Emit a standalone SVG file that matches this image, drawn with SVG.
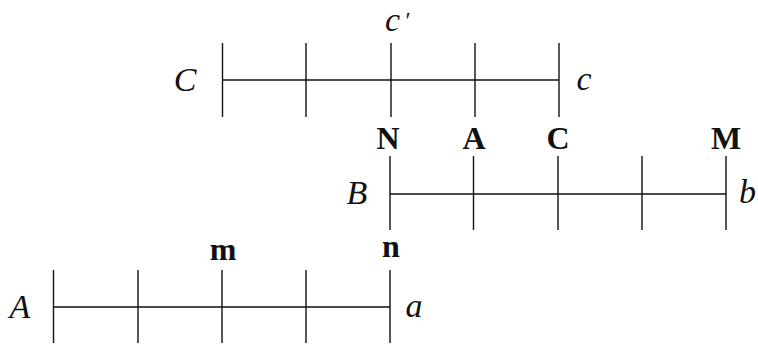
<svg xmlns="http://www.w3.org/2000/svg" width="758" height="345" viewBox="0 0 758 345">
<style>
.ln{stroke:#111;stroke-width:1.4;fill:none}
.it{font-family:"Liberation Serif",serif;font-style:italic;font-size:34px;fill:#111}
.bd{font-family:"Liberation Serif",serif;font-weight:bold;font-size:32px;fill:#111;text-anchor:middle}
</style>
<rect width="758" height="345" fill="#fff"/>
<g id="connectors">
<g id="ruler-C">
<line class="ln" x1="222.5" y1="80" x2="559" y2="80"/>
<line class="ln" x1="222.5" y1="43" x2="222.5" y2="117"/>
<line class="ln" x1="306" y1="43" x2="306" y2="117"/>
<line class="ln" x1="391" y1="43" x2="391" y2="117"/>
<line class="ln" x1="475" y1="43" x2="475" y2="117"/>
<line class="ln" x1="559" y1="43" x2="559" y2="117"/>
</g>
<g id="ruler-B">
<line class="ln" x1="390" y1="194" x2="726" y2="194"/>
<line class="ln" x1="390" y1="156" x2="390" y2="230"/>
<line class="ln" x1="473.5" y1="156" x2="473.5" y2="230"/>
<line class="ln" x1="558" y1="156" x2="558" y2="230"/>
<line class="ln" x1="642" y1="156" x2="642" y2="230"/>
<line class="ln" x1="726" y1="156" x2="726" y2="230"/>
</g>
<g id="ruler-A">
<line class="ln" x1="53.5" y1="307" x2="390" y2="307"/>
<line class="ln" x1="53.5" y1="270" x2="53.5" y2="343"/>
<line class="ln" x1="138" y1="270" x2="138" y2="343"/>
<line class="ln" x1="222" y1="270" x2="222" y2="343"/>
<line class="ln" x1="306" y1="270" x2="306" y2="343"/>
<line class="ln" x1="390" y1="270" x2="390" y2="343"/>
</g>
</g>
<g id="label-C"><text class="it" x="185" y="91" text-anchor="middle">C</text></g>
<g id="label-c"><text class="it" x="584" y="90" text-anchor="middle">c</text></g>
<g id="label-cprime"><text class="it" x="385" y="31">c<tspan dx="4" dy="-3" font-size="24">′</tspan></text></g>
<g id="label-N"><text class="bd" x="388" y="149">N</text></g>
<g id="label-A-bold"><text class="bd" x="474" y="149">A</text></g>
<g id="label-C-bold"><text class="bd" x="558" y="149">C</text></g>
<g id="label-M"><text class="bd" x="726" y="149">M</text></g>
<g id="label-B"><text class="it" x="357" y="204" text-anchor="middle">B</text></g>
<g id="label-b"><text class="it" x="739" y="203">b</text></g>
<g id="label-m"><text class="bd" x="223" y="260">m</text></g>
<g id="label-n"><text class="bd" x="391" y="257">n</text></g>
<g id="label-A"><text class="it" x="20" y="318" text-anchor="middle">A</text></g>
<g id="label-a"><text class="it" x="414" y="317" text-anchor="middle">a</text></g>
</svg>
